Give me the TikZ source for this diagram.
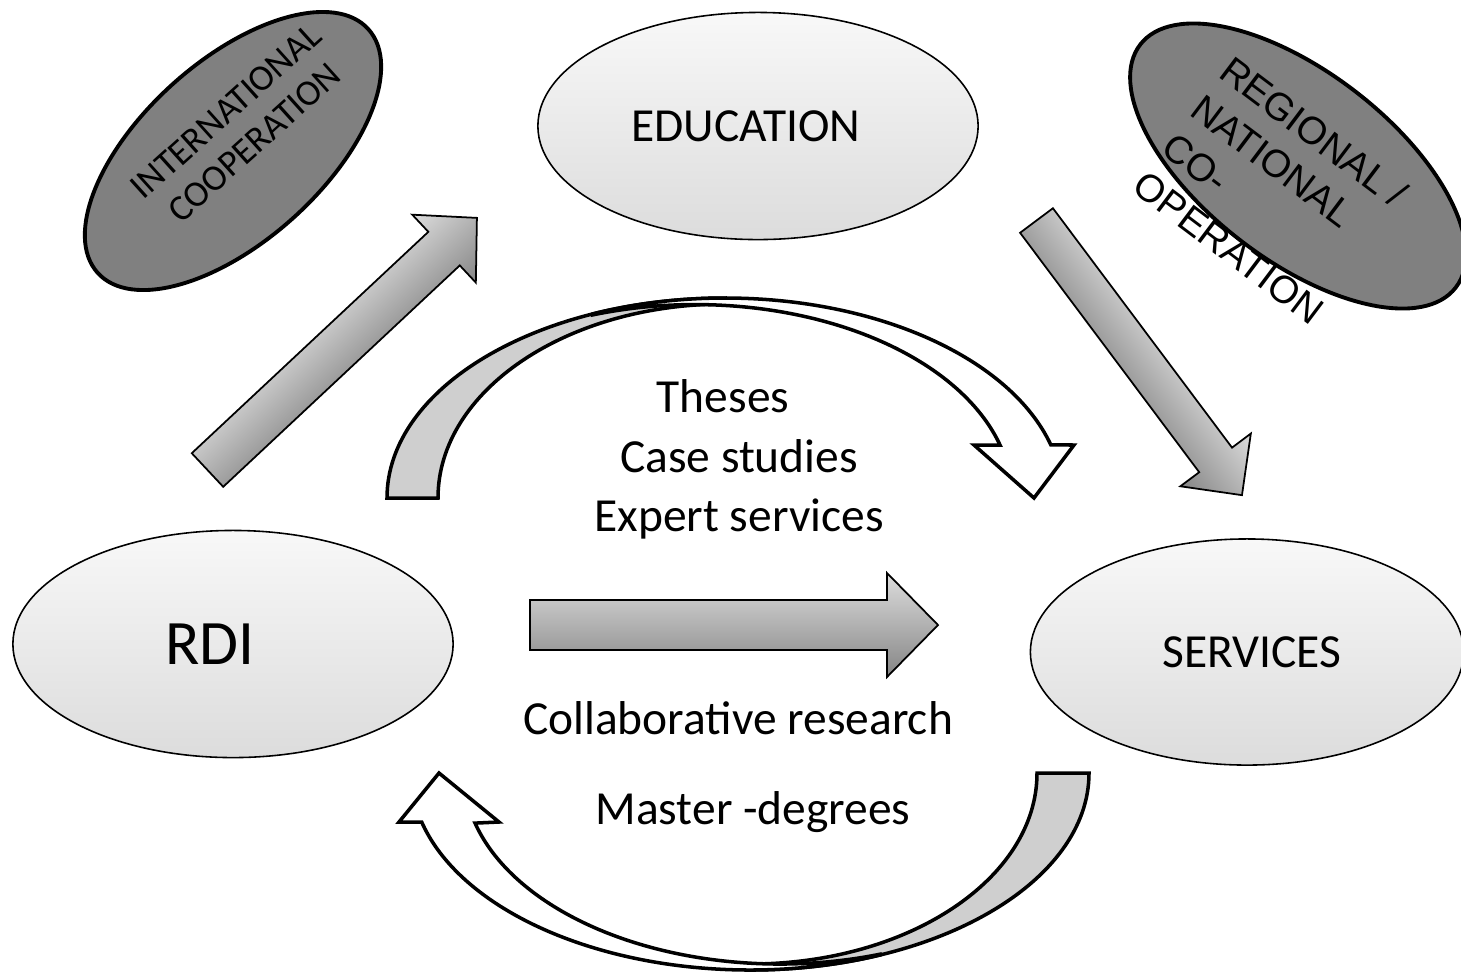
\documentclass[tikz,border=0pt]{standalone}
\usepackage{fontspec}
\setmainfont{Carlito}
\newfontfamily\arialfont{Liberation Sans}
\usetikzlibrary{shapes.geometric}

\definecolor{ellight}{HTML}{F8F8F8}
\definecolor{eldark}{HTML}{DCDCDC}
\definecolor{darkfill}{HTML}{808080}
\definecolor{arrlight}{HTML}{DDDDDD}
\definecolor{arrdark}{HTML}{858585}
\definecolor{backgray}{HTML}{CFCFCF}

% x, y, angle, length, half shaft, half head, head length
\newcommand{\blockarrow}[7]{%
    \begin{scope}[transform canvas={shift={(#1,#2)}, rotate=#3}]
        \path[arrowshade] (0,-#5) -- ({#4-#7},-#5) -- ({#4-#7},-#6) -- (#4,0)
            -- ({#4-#7},#6) -- ({#4-#7},#5) -- (0,#5) -- cycle;
    \end{scope}}

\begin{document}
\begin{tikzpicture}[x=0.01cm, y=0.01cm]
    \tikzset{
        area/.style={ellipse, draw, line width=0.45pt, top color=ellight, bottom color=eldark,
            inner sep=0pt, font=\fontsize{13.5}{16}\selectfont},
        partner/.style={ellipse, draw, line width=1.1pt, fill=darkfill, inner sep=0pt},
        arrowshade/.style={draw, line width=0.5pt, top color=arrlight, bottom color=arrdark},
        backband/.style={draw, line width=1pt, fill=backgray},
        frontband/.style={draw, line width=1pt, fill=white},
        words/.style={inner sep=0pt, text depth=0pt, font=\fontsize{13.5}{16}\selectfont}
    }
    \useasboundingbox (0,0) rectangle (1461,-972);

    % the three areas
    \node[area, minimum width=4.40cm, minimum height=2.27cm]    (edu)   at (758,-126)   {EDUCATION\hspace*{0.24cm}};
    \node[area, minimum width=4.40cm, minimum height=2.27cm,
          font=\fontsize{18}{20}\selectfont]                    (rdi)   at (233,-644)   {RDI\hspace*{0.46cm}};
    \node[area, minimum width=4.33cm, minimum height=2.26cm]    (srv)   at (1247,-652)  {\hspace*{0.1cm}SERVICES};

    % cooperation partners
    \node[partner, minimum width=3.64cm, minimum height=1.80cm, rotate=42]      (intl)  at (233,-151)  {};
    \node[partner, minimum width=3.98cm, minimum height=1.88cm, rotate=-37.6]   (regn)  at (1298,-166) {};
    \node[rotate=42, align=center, inner sep=0pt,
          font=\fontsize{10.4}{12}\selectfont]                  (intlt) at (240,-127)
          {INTERNATIONAL\\COOPERATION};
    \node[rotate=-37, align=left, inner sep=0pt,
          font=\arialfont\fontsize{11}{13.6}\selectfont]        (regnt) at (1272,-190)
          {REGIONAL /\\NATIONAL\\CO-\\OPERATION};

    % straight block arrows
    \blockarrow{207.5}{-470}{43.1}{369}{23}{46.5}{45}
    \blockarrow{1036.5}{-220.5}{-53.2}{343}{20.5}{44}{44}
    \blockarrow{530}{-625}{0}{408}{25}{52}{51}

    % curved arrow over the top
    \filldraw[backband] (387,-498) arc[start angle=180, end angle=90, x radius=338, y radius=200]
        -- (725,-304) arc[start angle=90, end angle=180, x radius=287, y radius=194] -- cycle;
    \filldraw[frontband] (592.9,-313.9) arc[start angle=113, end angle=15.4, x radius=338, y radius=200]
        -- (1074,-445) -- (1034,-498) -- (974,-445) -- (1000,-445)
        arc[start angle=15.8, end angle=108.8, x radius=317, y radius=193] -- cycle;

    % curved arrow under the bottom
    \filldraw[backband] (1089,-773) arc[start angle=0, end angle=-90, x radius=339, y radius=197]
        -- (750,-964) arc[start angle=-90, end angle=0, x radius=287, y radius=191] -- cycle;
    \filldraw[frontband] (421.7,-822) arc[start angle=194.4, end angle=292.55, x radius=339, y radius=197]
        -- (880,-954.2) arc[start angle=288.45, end angle=195.2, x radius=316, y radius=191]
        -- (499,-822) -- (439,-773) -- (399,-822) -- cycle;

    % texts in the middle
    \node[words] (th) at (723,-396) {Theses};
    \node[words] (cs) at (739,-456) {Case studies};
    \node[words] (es) at (739,-515) {Expert services};
    \node[words] (cr) at (738,-718) {Collaborative research};
    \node[words] (md) at (753,-808) {Master -degrees};
\end{tikzpicture}
\end{document}
